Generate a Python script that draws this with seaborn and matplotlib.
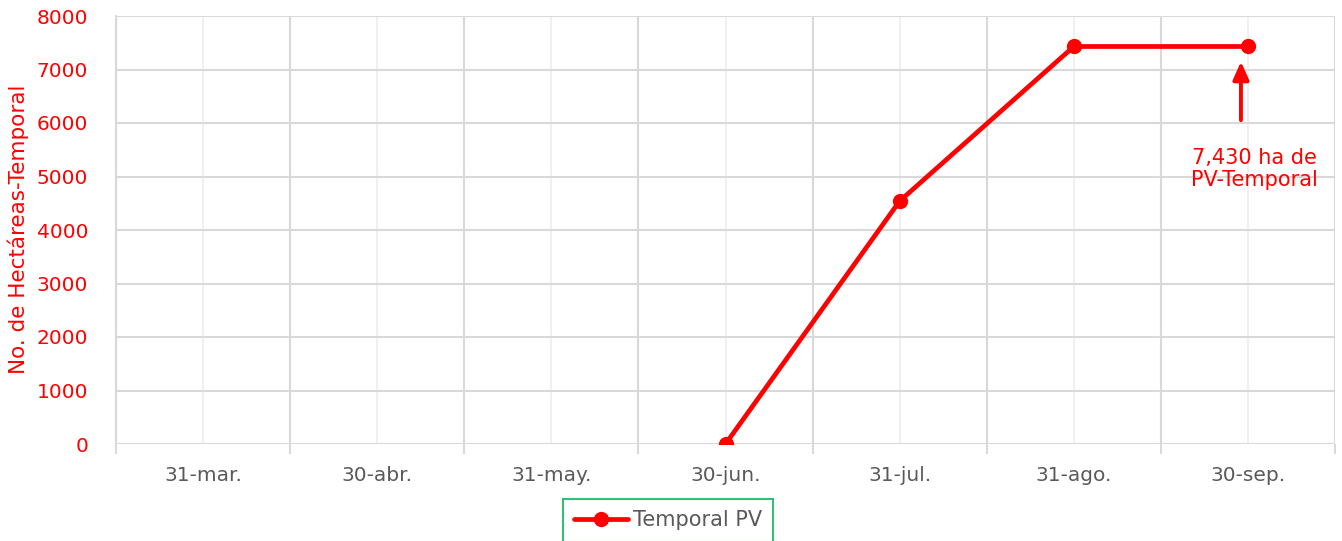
import numpy as np
import pandas as pd
import matplotlib
matplotlib.use("Agg")
import matplotlib.pyplot as plt
import seaborn as sns

categories = ["31-mar.", "30-abr.", "31-may.", "30-jun.", "31-jul.", "31-ago.", "30-sep."]
temporal_pv = [np.nan, np.nan, np.nan, 0, 4540, 7430, 7430]
series_name = "Temporal PV"
y_ticks = [0, 1000, 2000, 3000, 4000, 5000, 6000, 7000, 8000]
annotation_text = "7,430 ha de\nPV-Temporal"
y_label = "No. de Hectáreas-Temporal"

sns.set_theme(style="white")
plt.rcParams["font.family"] = ["DejaVu Sans"]

fig = plt.figure(figsize=(13.42, 5.41), dpi=100)
ax = fig.add_axes([116 / 1342, 1 - 444 / 541, (1335 - 116) / 1342, (444 - 16) / 541])

df = pd.DataFrame({"pos": np.arange(len(categories)), "val": temporal_pv, "serie": series_name})
df = df.dropna()
sns.lineplot(data=df, x="pos", y="val", hue="serie", palette=["#ff0000"], ax=ax,
             linewidth=3.4, marker="o", markersize=11, markeredgewidth=0, legend=True)

ax.set_xlim(-0.5, len(categories) - 0.5)
ax.set_ylim(0, 8000)
ax.set_yticks(y_ticks)
ax.set_yticklabels([str(v) for v in y_ticks], color="#ff0000", fontsize=14.5)
ax.tick_params(axis="y", length=0, pad=20)

ax.set_xticks(np.arange(-0.5, len(categories), 1))
ax.set_xticklabels([])
ax.set_xticks(np.arange(len(categories)), minor=True)
ax.set_xticklabels(categories, minor=True, color="#595959", fontsize=14.5)
ax.tick_params(axis="x", which="major", length=7, width=1.5, color="#d9d9d9", bottom=True)
ax.tick_params(axis="x", which="minor", length=0, pad=16)

ax.grid(axis="y", color="#d9d9d9", linewidth=1.5)
ax.grid(axis="x", which="major", color="#d9d9d9", linewidth=1.5)
ax.grid(axis="x", which="minor", color="#ededed", linewidth=1.2)
ax.set_axisbelow(True)
for s in ["top", "right", "bottom"]:
    ax.spines[s].set_visible(False)
ax.spines["left"].set_color("#d9d9d9")
ax.spines["left"].set_linewidth(1.5)

ax.set_xlabel("")
ax.set_ylabel(y_label, color="#ff0000", fontsize=15.5, va="center")
ax.yaxis.set_label_coords((18 - 116) / 1219, (444 - 229) / 428)

last_x = len(categories) - 1
last_y = temporal_pv[-1]
ax.annotate("", xy=(last_x - 0.04, last_y - 230), xytext=(last_x - 0.04, 6000),
            arrowprops=dict(arrowstyle="-|>,head_width=0.4,head_length=0.9", color="#ff0000", lw=2.8))
ax.text(last_x + 0.04, 5140, annotation_text, ha="center", va="center", color="#ff0000",
        fontsize=15, linespacing=1.15)

handles, labels = ax.get_legend_handles_labels()
ax.legend_.remove()
leg = fig.legend(handles, labels, loc="upper center", bbox_to_anchor=(668 / 1342, 1 - 499 / 541),
                 frameon=True, fontsize=15, handlelength=2.6, borderpad=0.55, handletextpad=0.2,
                 fancybox=False, borderaxespad=0)
leg.get_frame().set_edgecolor("#00b050")
leg.get_frame().set_linewidth(1.5)
leg.get_frame().set_boxstyle("square", pad=0.0)
for t in leg.get_texts():
    t.set_color("#595959")

fig.savefig("out.png", dpi=100)
